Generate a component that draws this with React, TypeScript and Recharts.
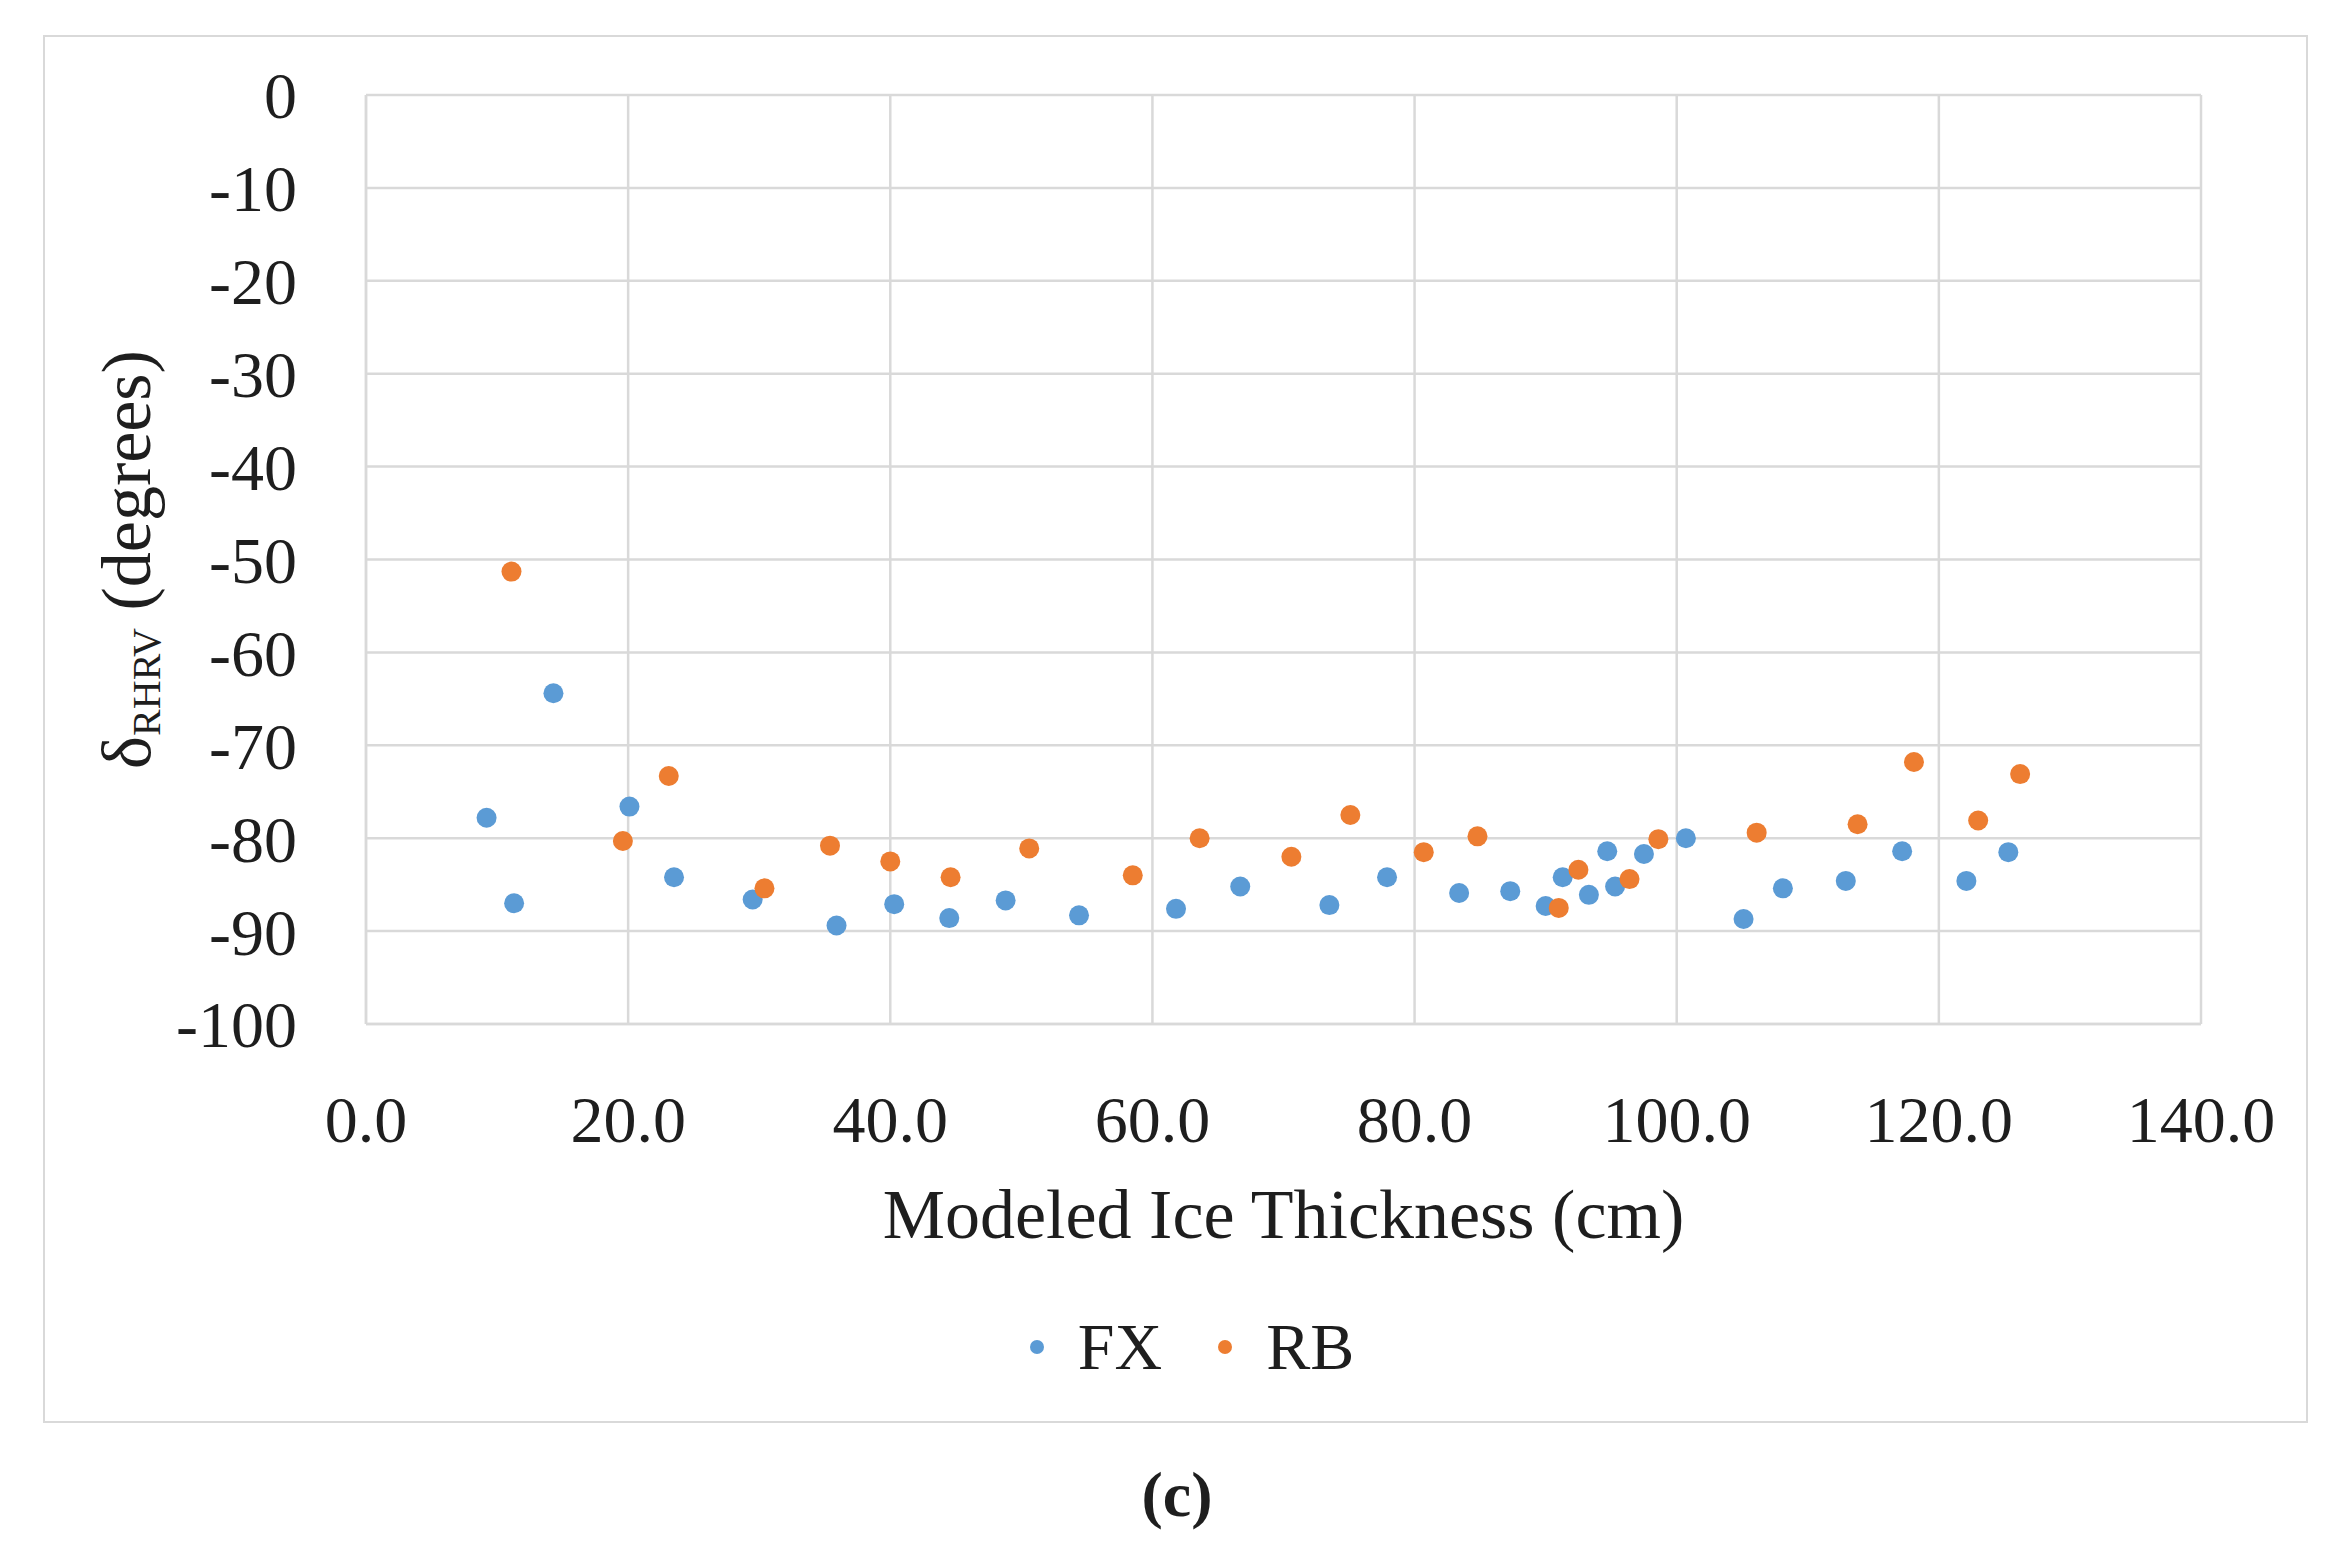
import { ScatterChart, Scatter, XAxis, YAxis, CartesianGrid, Legend, Label } from 'recharts';

const FONT = '"Liberation Serif", "DejaVu Serif", serif';
const BLUE = '#5b9bd5';
const ORANGE = '#ed7d31';
const GRID = '#d9d9d9';
const INK = '#1e1e1e';

const xTicks = [0, 20, 40, 60, 80, 100, 120, 140];
const yTicks = [0, -10, -20, -30, -40, -50, -60, -70, -80, -90, -100];

// FX series (blue)
const fxThickness = [
  9.2, 11.3, 14.3, 20.1, 23.5, 29.5, 35.9, 40.3, 44.5, 48.8,
  54.4, 61.8, 66.7, 73.5, 77.9, 83.4, 87.3, 90.0, 91.3, 93.3,
  94.7, 95.3, 97.5, 100.7, 105.1, 108.1, 112.9, 117.2, 122.1, 125.3,
];
const fxDelta = [
  -77.8, -87.0, -64.4, -76.6, -84.2, -86.6, -89.4, -87.1, -88.6, -86.7,
  -88.3, -87.6, -85.2, -87.2, -84.2, -85.9, -85.7, -87.3, -84.2, -86.1,
  -81.4, -85.2, -81.7, -80.0, -88.7, -85.4, -84.6, -81.4, -84.6, -81.5,
];

// RB series (orange)
const rbThickness = [
  11.1, 19.6, 23.1, 30.4, 35.4, 40.0, 44.6, 50.6, 58.5, 63.6,
  70.6, 75.1, 80.7, 84.8, 91.0, 92.5, 96.4, 98.6, 106.1, 113.8,
  118.1, 123.0, 126.2,
];
const rbDelta = [
  -51.3, -80.3, -73.3, -85.4, -80.8, -82.5, -84.2, -81.1, -84.0, -80.0,
  -82.0, -77.5, -81.5, -79.8, -87.5, -83.4, -84.4, -80.1, -79.4, -78.5,
  -71.8, -78.1, -73.1,
];

const fxData = fxThickness.map((x, i) => ({ x, y: fxDelta[i] }));
const rbData = rbThickness.map((x, i) => ({ x, y: rbDelta[i] }));

function Dot(props: any) {
  return <circle cx={props.cx} cy={props.cy} r={10} fill={props.fill} />;
}

function LegendContent(props: any) {
  const payload = props.payload || [];
  return (
    <div
      style={{
        display: 'flex',
        justifyContent: 'center',
        alignItems: 'center',
        height: 80,
        lineHeight: '80px',
        paddingLeft: 38,
        fontFamily: FONT,
        fontSize: 66,
        color: INK,
      }}
    >
      {payload.map((entry: any, i: number) => (
        <div key={entry.value} style={{ display: 'flex', alignItems: 'center', marginRight: i === 0 ? 56 : 0 }}>
          <span
            style={{
              display: 'inline-block',
              width: 14,
              height: 14,
              borderRadius: '50%',
              background: entry.color,
              marginRight: 34,
            }}
          />
          <span>{entry.value}</span>
        </div>
      ))}
    </div>
  );
}

function YTitle(props: any) {
  const vb = props.viewBox || { y: 95, height: 929 };
  const cy = vb.y + vb.height / 2;
  const cx = 150;
  return (
    <text
      x={cx}
      y={cy}
      transform={`rotate(-90 ${cx} ${cy})`}
      textAnchor="middle"
      fontFamily={FONT}
      fontSize={70}
      fill={INK}
    >
      δ
      <tspan fontSize={40} dy={10}>RHRV</tspan>
      <tspan dy={-10}> (degrees)</tspan>
    </text>
  );
}

function XTitle(props: any) {
  const vb = props.viewBox || { x: 366, width: 1837 };
  return (
    <text x={vb.x + vb.width / 2} y={1238} textAnchor="middle" fontFamily={FONT} fontSize={70} fill={INK}>
      Modeled Ice Thickness (cm)
    </text>
  );
}

export default function App() {
  const tickStyle = { fontFamily: FONT, fontSize: 66, fill: INK };
  return (
    <div style={{ position: 'absolute', left: 0, top: 0, width: 2346, height: 1545, background: '#fff' }}>
      <div
        style={{
          position: 'absolute',
          left: 43,
          top: 35,
          width: 2261,
          height: 1384,
          border: `2px solid ${GRID}`,
        }}
      />
      <div style={{ position: 'absolute', left: 0, top: 0 }}>
        <ScatterChart width={2346} height={1545} margin={{ top: 95, right: 145, left: 0, bottom: 281 }}>
          <CartesianGrid stroke={GRID} strokeWidth={2.5} />
          <XAxis
            type="number"
            dataKey="x"
            domain={[0, 140]}
            ticks={xTicks}
            tickFormatter={(v: number) => v.toFixed(1)}
            tick={tickStyle}
            tickLine={false}
            tickMargin={65}
            axisLine={{ stroke: GRID, strokeWidth: 2.5 }}
            height={160}
            interval={0}
          >
            <Label content={XTitle} />
          </XAxis>
          <YAxis
            type="number"
            dataKey="y"
            domain={[-100, 0]}
            ticks={yTicks}
            tick={tickStyle}
            tickLine={false}
            tickMargin={63}
            axisLine={{ stroke: GRID, strokeWidth: 2.5 }}
            width={366}
            interval={0}
          >
            <Label content={YTitle} />
          </YAxis>
          <Legend
            verticalAlign="bottom"
            content={LegendContent}
            wrapperStyle={{ top: 1307, bottom: 'auto', left: 0, width: 2346 }}
          />
          <Scatter name="FX" data={fxData} fill={BLUE} shape={Dot} isAnimationActive={false} />
          <Scatter name="RB" data={rbData} fill={ORANGE} shape={Dot} isAnimationActive={false} />
        </ScatterChart>
      </div>
      <div
        style={{
          position: 'absolute',
          left: 0,
          top: 1455,
          width: 2354,
          textAlign: 'center',
          fontFamily: FONT,
          fontSize: 64,
          fontWeight: 'bold',
          lineHeight: '80px',
          color: INK,
        }}
      >
        (c)
      </div>
    </div>
  );
}
